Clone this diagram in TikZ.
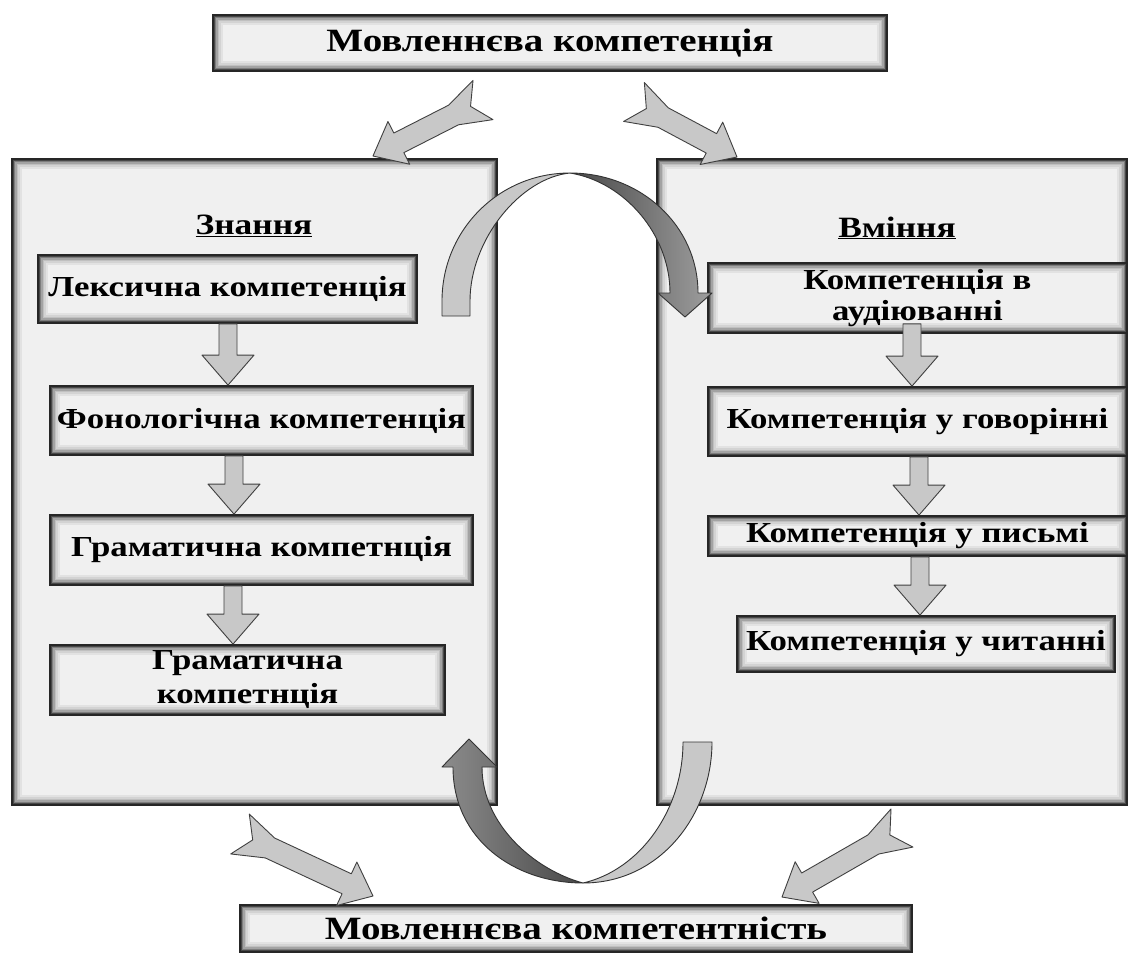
\documentclass[tikz,border=0pt]{standalone}
\usepackage{fontspec}
\newfontfamily\dgfont{Liberation Serif}[FakeStretch=1.2]
\usetikzlibrary{calc}
\definecolor{boxfill}{HTML}{F0F0F0}
\definecolor{arrfill}{HTML}{C8C8C8}
\tikzset{
  innershadow/.style={path picture={
    \foreach \i/\c in {0.8/70,2.4/48,4/32,5.6/20,7.2/12,8.8/6}{
      \draw[black!\c!boxfill, line width=1.7pt]
        ([shift={(\i pt,\i pt)}]path picture bounding box.south west) rectangle
        ([shift={(-\i pt,-\i pt)}]path picture bounding box.north east);}}},
  shbox/.style={draw=black!85, line width=1.8pt, fill=boxfill, innershadow,
    inner sep=0pt, align=center, text=black,
    font=\dgfont\bfseries\fontsize{29}{34}\selectfont},
  titlebox/.style={shbox, font=\dgfont\bfseries\fontsize{32.5}{36}\selectfont},
  bigbox/.style={shbox},
  headtxt/.style={inner sep=0pt, text=black, font=\dgfont\bfseries\fontsize{29.5}{33}\selectfont},
  blk/.style={fill=arrfill, draw=black!75, line width=0.9pt, line join=round},
  lightband/.style={fill=arrfill, draw=black!80, line width=0.9pt, line join=round},
}
\newcommand\blockdown[2]{%
  \path[blk] let \p1=(#1), \p2=(#2) in
    ({\x1-9pt},\y1) -- ({\x1+9pt},\y1) -- ({\x1+9pt},{\y2+30pt}) --
    ({\x1+26pt},{\y2+30pt}) -- (\x1,\y2) -- ({\x1-26pt},{\y2+30pt}) --
    ({\x1-9pt},{\y2+30pt}) -- cycle;}
\newcommand\finarrow[2]{%
  \coordinate (fH) at ($(#2)!29pt!(#1)$);
  \coordinate (fS) at ($(#1)!33pt!(#2)$);
  \coordinate (fN) at ($(#1)!14pt!(#2)$);
  \path[blk] (#2) -- ($(fH)!24pt!90:(#2)$) -- ($(fH)!11pt!90:(#2)$) --
    ($(fS)!11pt!90:(#2)$) -- ($(#1)!22pt!90:(#2)$) -- (fN) --
    ($(#1)!22pt!-90:(#2)$) -- ($(fS)!11pt!-90:(#2)$) --
    ($(fH)!11pt!-90:(#2)$) -- ($(fH)!24pt!-90:(#2)$) -- cycle;}
\begin{document}
\begin{tikzpicture}[x=1pt,y=-1pt]
\useasboundingbox[fill=white] (0,0) rectangle (1130,956);

% big boxes
\node[bigbox, minimum width=485pt, minimum height=646pt] (kn) at (254.5,482) {};
\node[bigbox, minimum width=470pt, minimum height=646pt] (sk) at (892,482) {};
\node[headtxt] (knh) at (254,226) {\underline{Знання}};
\node[headtxt] (skh) at (897,228) {\underline{Вміння}};

% left column
\node[shbox, minimum width=379pt, minimum height=68pt] (lex) at (227.5,289) {Лексична компетенція};
\node[shbox, minimum width=423pt, minimum height=69pt] (fon) at (261.5,420.5) {Фонологічна компетенція};
\node[shbox, minimum width=423pt, minimum height=70pt] (gram) at (261.5,550) {Граматична компетнція};
\node[shbox, minimum width=395pt, minimum height=70pt] (gramb) at (247.5,680) {Граматична\\компетнція};

% right column
\node[shbox, minimum width=419pt, minimum height=70pt, font=\dgfont\bfseries\fontsize{29}{31}\selectfont] (aud) at (917.5,298) {Компетенція в\\аудіюванні};
\node[shbox, minimum width=419pt, minimum height=69pt] (gov) at (917.5,421.5) {Компетенція у говорінні};
\node[shbox, minimum width=419pt, minimum height=40pt] (pys) at (917.5,536) {Компетенція у письмі};
\node[shbox, minimum width=378pt, minimum height=56pt] (chyt) at (926,644) {Компетенція у читанні};

% title boxes
\node[titlebox, minimum width=674pt, minimum height=56pt] (top) at (550,43) {Мовленнєва компетенція};
\node[titlebox, minimum width=672pt, minimum height=47pt] (bot) at (576,928.5) {Мовленнєва компетентність};

% down block arrows
\coordinate (xa) at (228,0);
\coordinate (xb) at (234,0);
\coordinate (xc) at (233,0);
\coordinate (xr1) at (912,0);
\coordinate (xr2) at (919,0);
\coordinate (xr3) at (920,0);
\blockdown{xa |- lex.south}{xa |- fon.north}
\blockdown{xb |- fon.south}{xb |- gram.north}
\blockdown{xc |- gram.south}{xc |- gramb.north}
\coordinate (r1top) at ([yshift=10pt]xr1 |- aud.south);
\blockdown{r1top}{xr1 |- gov.north}
\blockdown{xr2 |- gov.south}{xr2 |- pys.north}
\blockdown{xr3 |- pys.south}{xr3 |- chyt.north}

% top curved arrow (Знання -> Вміння)
\path[lightband] (442,316) -- (442,301) .. controls (442,230) and (499,173) .. (570,173)
   .. controls (520,178) and (470,240) .. (470,301) -- (470,316) -- cycle;
\path[draw=black!80, line width=0.9pt, line join=round, left color=black!72, right color=black!38]
   (570,173) .. controls (640,173) and (698,225) .. (698,293) -- (712,293) -- (685,317)
   -- (658,293) -- (670,293) .. controls (670,235) and (625,182) .. (570,173) -- cycle;

% bottom curved arrow (Вміння -> Знання)
\path[lightband] (583,883) .. controls (660,883) and (712,815) .. (712,742) -- (683,742)
   .. controls (683,810) and (640,870) .. (583,883) -- cycle;
\path[draw=black!80, line width=0.9pt, line join=round, left color=black!45, right color=black!72]
   (583,883) .. controls (515,883) and (453,840) .. (453,767) -- (442,767) -- (469,739)
   -- (497,767) -- (482,767) .. controls (482,825) and (535,870) .. (583,883) -- cycle;

% fin arrows
\coordinate (t1) at (483,100);
\coordinate (p1) at (373,156);
\coordinate (t2) at (634,102);
\coordinate (p2) at (737,157);
\coordinate (t3) at (240,834);
\coordinate (p3) at (373,896);
\coordinate (t4) at (902,828);
\coordinate (p4) at (782,897);
\finarrow{t1}{p1}
\finarrow{t2}{p2}
\finarrow{t3}{p3}
\finarrow{t4}{p4}
\end{tikzpicture}
\end{document}
